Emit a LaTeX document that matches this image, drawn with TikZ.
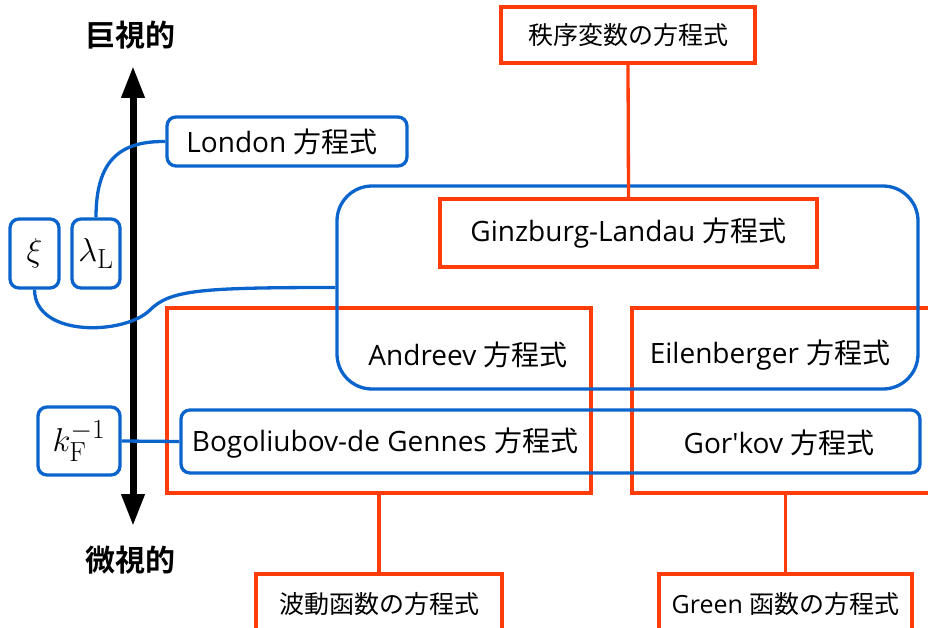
\documentclass[tikz,border=0pt]{standalone}
\usepackage{graphicx}
\usepackage[no-math]{fontspec}
\setmainfont{Open Sans}
\newfontfamily\jp{Noto Sans CJK JP}
\newfontfamily\jpb{Noto Sans CJK JP Bold}
\usetikzlibrary{arrows.meta}
\definecolor{myred}{HTML}{FF3C0A}
\definecolor{myblue}{HTML}{0A64CC}
\newcommand{\bigmath}[1]{\scalebox{1.33}{\fontsize{24.88}{28}\selectfont$#1$}}
\tikzset{
  redbox/.style={draw=myred, line width=3.3pt, rectangle, inner sep=0pt},
  bluebox/.style={draw=myblue, line width=3.3pt, rectangle, rounded corners=9pt, inner sep=0pt},
  redline/.style={draw=myred, line width=3.3pt},
  blueline/.style={draw=myblue, line width=3.3pt},
  maintext/.style={font=\fontsize{28}{32}\selectfont, text=black},
  smalltext/.style={font=\fontsize{25}{29}\selectfont, text=black},
}
\begin{document}
\begin{tikzpicture}[x=1pt,y=-1pt]
\useasboundingbox (0,0) rectangle (928,628);
\begin{scope}
\clip (0,0) rectangle (928,628);
% red containers
\node[redbox, minimum width=424pt, minimum height=185pt] (lr) at (379,400.5) {};
\node[redbox, minimum width=340pt, minimum height=185pt] (rr) at (802,400.5) {};
% big blue GL box
\node[bluebox, rounded corners=35pt, minimum width=581pt, minimum height=203pt] (glbig) at (627.5,287.5) {};
% BdG blue box
\node[bluebox, minimum width=739pt, minimum height=63pt] (bdg) at (550.5,441.5) {};
% GL red box
\node[redbox, fill=white, minimum width=377pt, minimum height=68pt, maintext] (gl) at (628.5,233) {Ginzburg-Landau {\jp 方程式}};
% top red box
\node[redbox, fill=white, minimum width=254pt, minimum height=56pt, smalltext] (top) at (628,35) {\jp 秩序変数の方程式};
% bottom boxes
\node[redbox, fill=white, minimum width=246pt, minimum height=60pt, smalltext] (bl) at (379,604) {\jp 波動函数の方程式};
\node[redbox, fill=white, minimum width=253pt, minimum height=60pt, smalltext] (br) at (785.5,604) {Green {\jp 函数の方程式}};
% texts
\node[maintext] (andreev) at (468,355) {Andreev {\jp 方程式}};
\node[maintext] (eilen) at (770,355) {Eilenberger {\jp 方程式}};
\node[maintext] (bdgt) at (385,443) {Bogoliubov-de Gennes {\jp 方程式}};
\node[maintext] (gorkov) at (779,443) {Gor\textquotesingle kov {\jp 方程式}};
% left boxes
\node[bluebox, fill=white, minimum width=240pt, minimum height=49pt, maintext] (london) at (287,141.5) {London {\jp 方程式}\hspace*{10pt}};
\node[bluebox, minimum width=49pt, minimum height=69pt] (xi) at (34.5,253.5) {\bigmath{\xi}};
\node[bluebox, minimum width=48pt, minimum height=69pt] (lam) at (96,253.5) {\bigmath{\lambda_{\mathrm{L}}}};
\node[bluebox, minimum width=82pt, minimum height=68pt] (kf) at (79,441) {\bigmath{k_{\mathrm{F}}^{-1}}};
% axis
\coordinate (atop) at (133,66);
\coordinate (abot) at (133,526);
\draw[line width=7pt, {Triangle[width=22pt,length=32pt]}-{Triangle[width=22pt,length=32pt]}] (abot) -- (atop);
\node[font=\fontsize{30}{33}\selectfont\jpb] (macro) at (130,35) {巨視的};
\node[font=\fontsize{30}{33}\selectfont\jpb] (micro) at (130,560) {微視的};
% connectors
\draw[redline] (top.south) -- (gl.north);
\draw[redline] (bl.north) -- (bl.north |- lr.south);
\draw[redline] (br.north) -- (br.north |- rr.south);
\draw[blueline] (kf.east) -- (bdg.west);
\draw[blueline] (lam.north) .. controls (96,160) and (120,141) .. (london.west);
\draw[blueline] (xi.south) .. controls (35,338) and (125,335) .. (150,310) .. controls (170,290) and (200,287.5) .. (glbig.west);
\end{scope}
\end{tikzpicture}
\end{document}
